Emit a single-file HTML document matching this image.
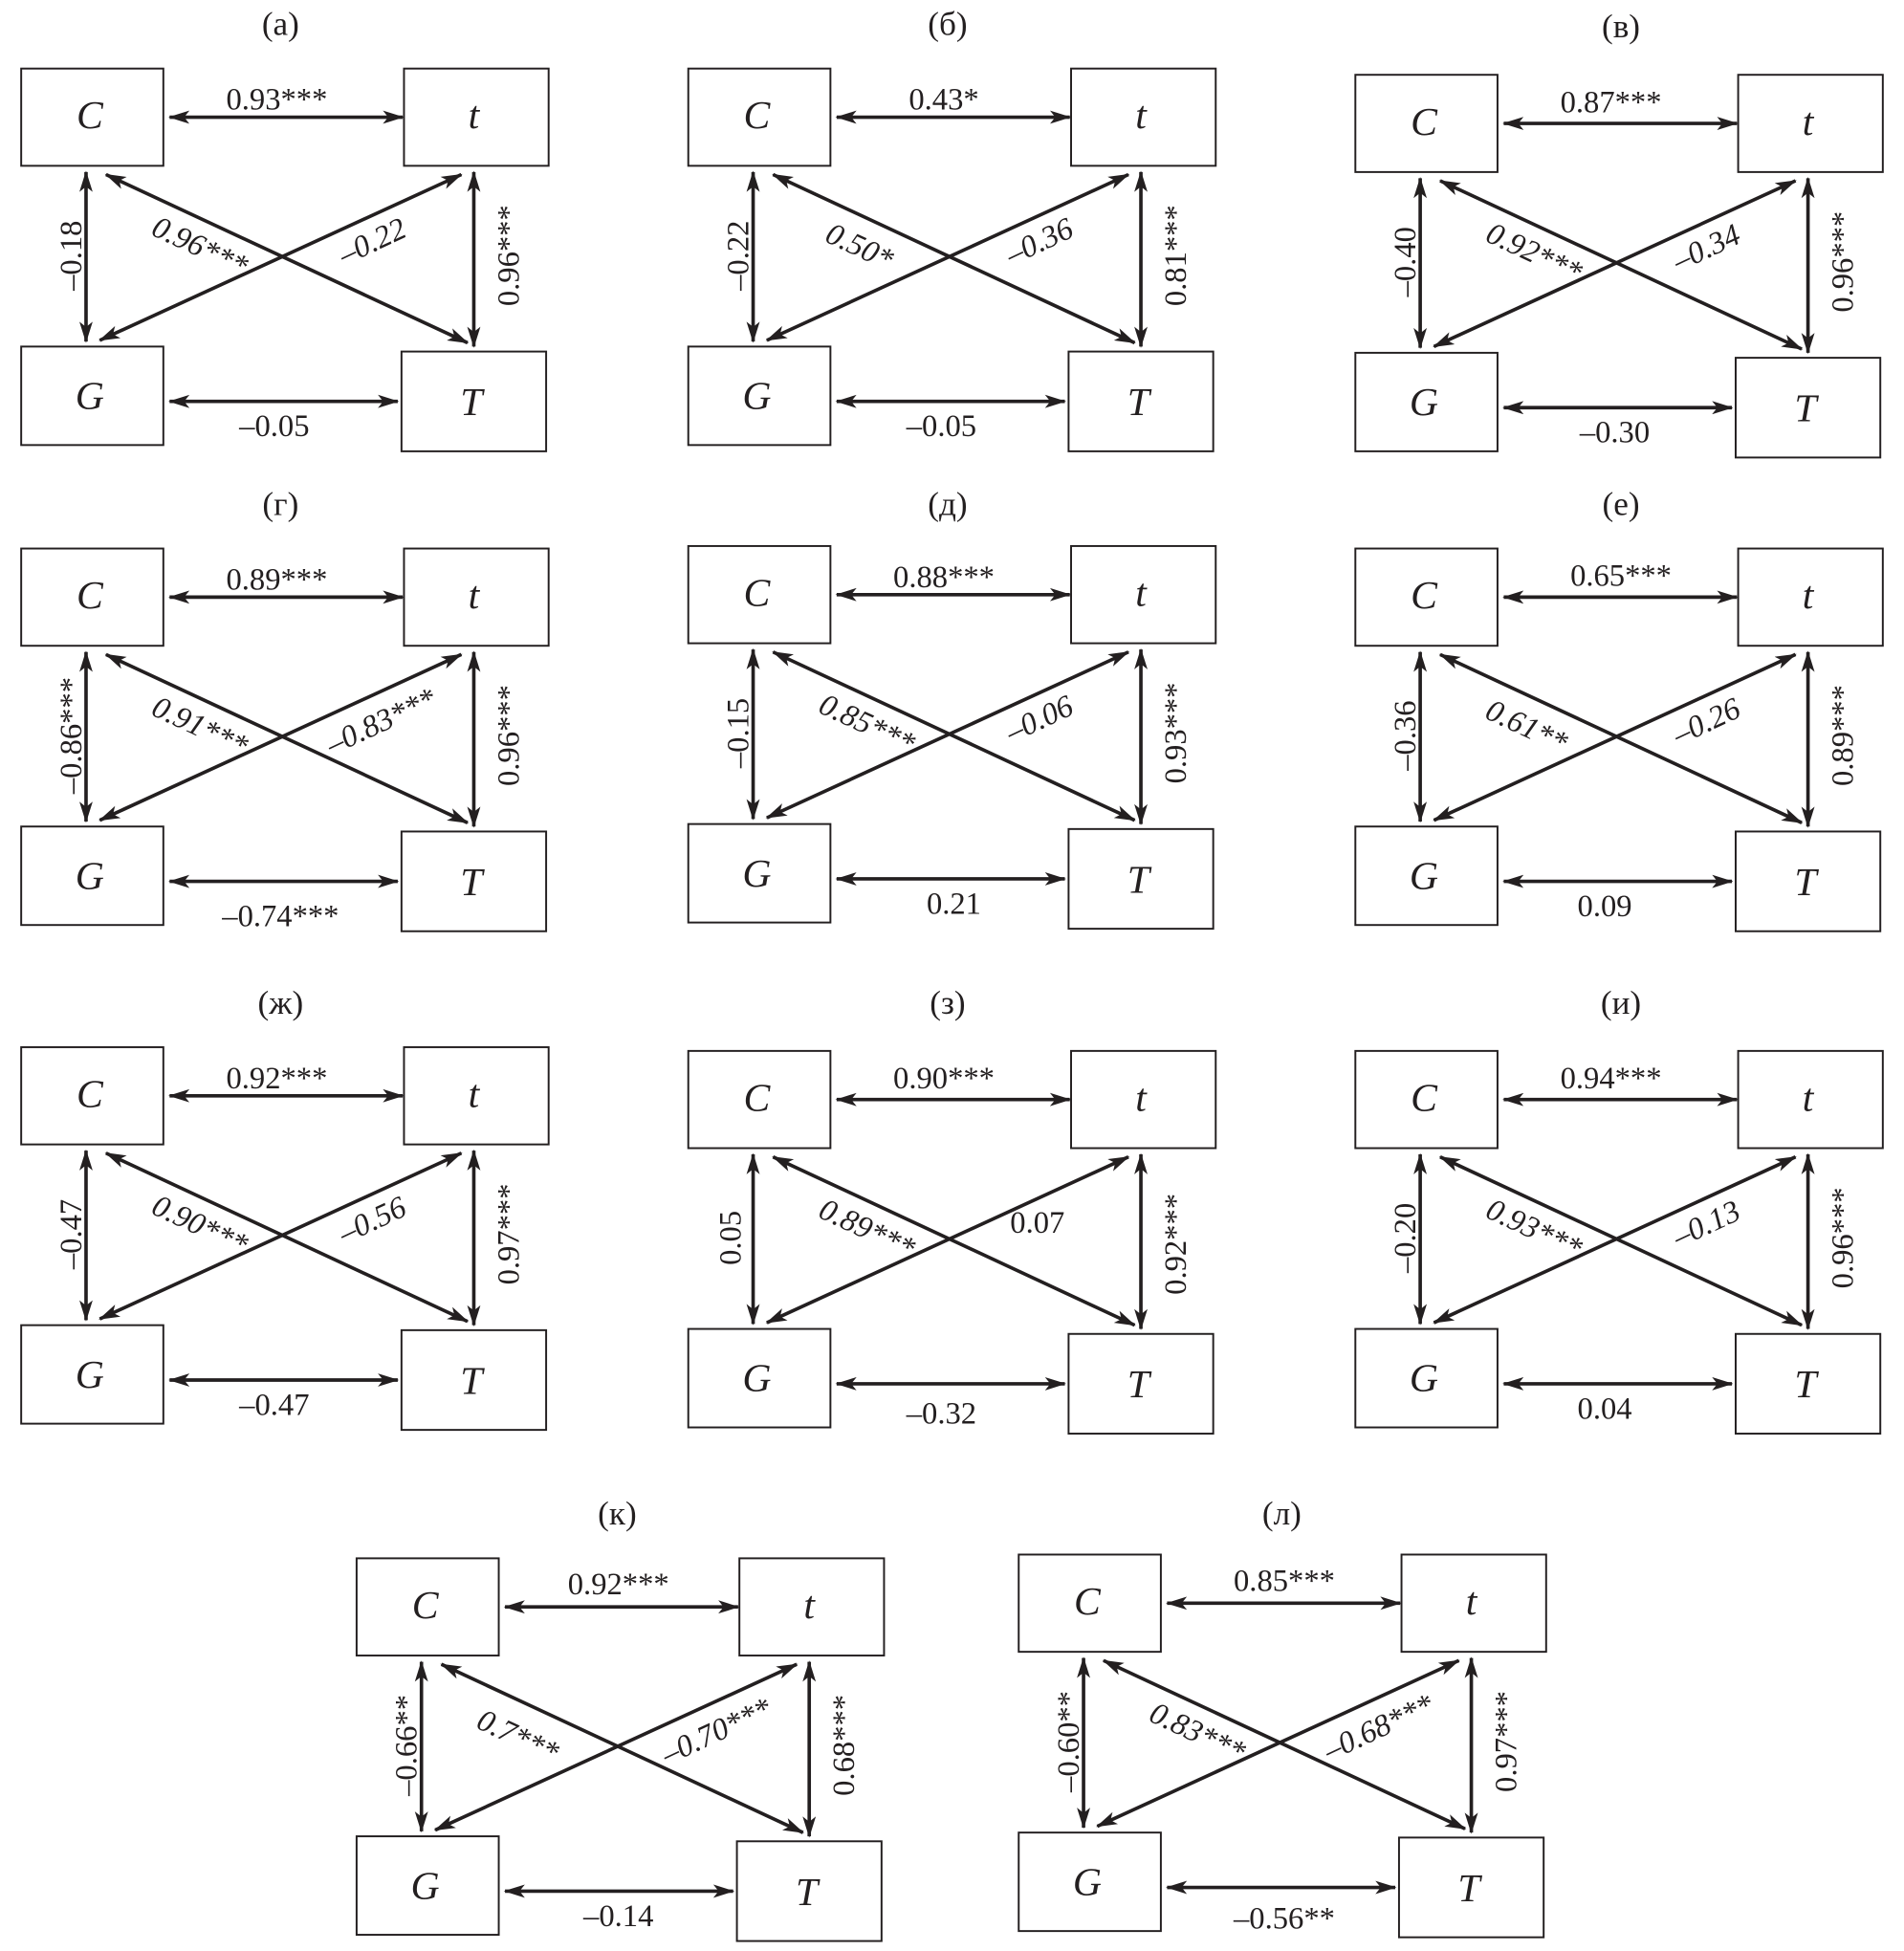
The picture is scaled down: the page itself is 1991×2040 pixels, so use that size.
<!DOCTYPE html>
<html><head><meta charset="utf-8"><style>
html,body{margin:0;padding:0;background:#fff;}
svg{display:block;}
text{font-family:"Liberation Serif",serif;fill:#231f20;}
.l{font-size:25px;text-anchor:middle;}
.n{font-size:32px;font-style:italic;text-anchor:middle;}
.d{font-size:25px;font-style:italic;text-anchor:middle;}
.ti{font-size:27px;text-anchor:middle;}
</style></head><body>
<svg width="1991" height="2040" viewBox="0 0 1527 1565" preserveAspectRatio="none" xmlns="http://www.w3.org/2000/svg">
<defs>
<marker id="ah" viewBox="0 0 16 10" refX="15" refY="5" markerWidth="17" markerHeight="11" markerUnits="userSpaceOnUse" orient="auto-start-reverse">
<path d="M0,0 L16,5 L0,10 L4,5 z" fill="#231f20"/>
</marker>
<g id="base" fill="none" stroke="#231f20">
<rect x="0" y="0" width="114" height="78" stroke-width="1.5"/>
<rect x="307" y="0" width="116" height="78" stroke-width="1.5"/>
<rect x="0" y="223" width="114" height="79" stroke-width="1.5"/>
<rect x="305" y="227" width="116" height="80" stroke-width="1.5"/>
<g stroke-width="2.8" marker-start="url(#ah)" marker-end="url(#ah)">
<line x1="119" y1="39" x2="306" y2="39"/>
<line x1="119" y1="267" x2="302" y2="267"/>
<line x1="52" y1="83" x2="52" y2="219"/>
<line x1="363" y1="83" x2="363" y2="223"/>
<line x1="68" y1="85" x2="358" y2="220"/>
<line x1="63" y1="218" x2="353" y2="85"/>
</g>
</g>
</defs>

<g transform="translate(17,55)"><use href="#base"/>
<text class="ti" x="208" y="-27">(а)</text>
<text class="n" x="55" y="48">C</text><text class="n" x="363" y="48">t</text><text class="n" x="55" y="273">G</text><text class="n" x="361" y="278">T</text>
<text class="l" x="205" y="33">0.93***</text><text class="l" x="203" y="295">–0.05</text>
<text class="l" transform="translate(48,150) rotate(-90)">–0.18</text>
<text class="l" transform="translate(399,150) rotate(-90)">0.96***</text>
<text class="d" transform="translate(140,150) rotate(25)">0.96***</text>
<text class="d" transform="translate(285,146) rotate(-25)">–0.22</text></g>

<g transform="translate(552,55)"><use href="#base"/>
<text class="ti" x="208" y="-27">(б)</text>
<text class="n" x="55" y="48">C</text><text class="n" x="363" y="48">t</text><text class="n" x="55" y="273">G</text><text class="n" x="361" y="278">T</text>
<text class="l" x="205" y="33">0.43*</text><text class="l" x="203" y="295">–0.05</text>
<text class="l" transform="translate(48,150) rotate(-90)">–0.22</text>
<text class="l" transform="translate(399,150) rotate(-90)">0.81***</text>
<text class="d" transform="translate(134,150) rotate(25)">0.50*</text>
<text class="d" transform="translate(285,146) rotate(-25)">–0.36</text></g>

<g transform="translate(1087,60)"><use href="#base"/>
<text class="ti" x="213" y="-30">(в)</text>
<text class="n" x="55" y="48">C</text><text class="n" x="363" y="48">t</text><text class="n" x="55" y="273">G</text><text class="n" x="361" y="278">T</text>
<text class="l" x="205" y="30">0.87***</text><text class="l" x="208" y="295">–0.30</text>
<text class="l" transform="translate(48,150) rotate(-90)">–0.40</text>
<text class="l" transform="translate(399,150) rotate(-90)">0.96***</text>
<text class="d" transform="translate(140,150) rotate(25)">0.92***</text>
<text class="d" transform="translate(285,146) rotate(-25)">–0.34</text></g>

<g transform="translate(17,440)"><use href="#base"/>
<text class="ti" x="208" y="-27">(г)</text>
<text class="n" x="55" y="48">C</text><text class="n" x="363" y="48">t</text><text class="n" x="55" y="273">G</text><text class="n" x="361" y="278">T</text>
<text class="l" x="205" y="33">0.89***</text><text class="l" x="208" y="303">–0.74***</text>
<text class="l" transform="translate(48,150) rotate(-90)">–0.86***</text>
<text class="l" transform="translate(399,150) rotate(-90)">0.96***</text>
<text class="d" transform="translate(140,150) rotate(25)">0.91***</text>
<text class="d" transform="translate(292,146) rotate(-25)">–0.83***</text></g>

<g transform="translate(552,438)"><use href="#base"/>
<text class="ti" x="208" y="-25">(д)</text>
<text class="n" x="55" y="48">C</text><text class="n" x="363" y="48">t</text><text class="n" x="55" y="273">G</text><text class="n" x="361" y="278">T</text>
<text class="l" x="205" y="33">0.88***</text><text class="l" x="213" y="295">0.21</text>
<text class="l" transform="translate(48,150) rotate(-90)">–0.15</text>
<text class="l" transform="translate(399,150) rotate(-90)">0.93***</text>
<text class="d" transform="translate(140,150) rotate(25)">0.85***</text>
<text class="d" transform="translate(285,146) rotate(-25)">–0.06</text></g>

<g transform="translate(1087,440)"><use href="#base"/>
<text class="ti" x="213" y="-27">(е)</text>
<text class="n" x="55" y="48">C</text><text class="n" x="363" y="48">t</text><text class="n" x="55" y="273">G</text><text class="n" x="361" y="278">T</text>
<text class="l" x="213" y="30">0.65***</text><text class="l" x="200" y="295">0.09</text>
<text class="l" transform="translate(48,150) rotate(-90)">–0.36</text>
<text class="l" transform="translate(399,150) rotate(-90)">0.89***</text>
<text class="d" transform="translate(134,150) rotate(25)">0.61**</text>
<text class="d" transform="translate(285,146) rotate(-25)">–0.26</text></g>

<g transform="translate(17,840)"><use href="#base"/>
<text class="ti" x="208" y="-27">(ж)</text>
<text class="n" x="55" y="48">C</text><text class="n" x="363" y="48">t</text><text class="n" x="55" y="273">G</text><text class="n" x="361" y="278">T</text>
<text class="l" x="205" y="33">0.92***</text><text class="l" x="203" y="295">–0.47</text>
<text class="l" transform="translate(48,150) rotate(-90)">–0.47</text>
<text class="l" transform="translate(399,150) rotate(-90)">0.97***</text>
<text class="d" transform="translate(140,150) rotate(25)">0.90***</text>
<text class="d" transform="translate(285,146) rotate(-25)">–0.56</text></g>

<g transform="translate(552,843)"><use href="#base"/>
<text class="ti" x="208" y="-30">(з)</text>
<text class="n" x="55" y="48">C</text><text class="n" x="363" y="48">t</text><text class="n" x="55" y="273">G</text><text class="n" x="361" y="278">T</text>
<text class="l" x="205" y="30">0.90***</text><text class="l" x="203" y="299">–0.32</text>
<text class="l" transform="translate(42,150) rotate(-90)">0.05</text>
<text class="l" transform="translate(399,155) rotate(-90)">0.92***</text>
<text class="d" transform="translate(140,150) rotate(25)">0.89***</text>
<text class="l" x="280" y="146">0.07</text></g>

<g transform="translate(1087,843)"><use href="#base"/>
<text class="ti" x="213" y="-30">(и)</text>
<text class="n" x="55" y="48">C</text><text class="n" x="363" y="48">t</text><text class="n" x="55" y="273">G</text><text class="n" x="361" y="278">T</text>
<text class="l" x="205" y="30">0.94***</text><text class="l" x="200" y="295">0.04</text>
<text class="l" transform="translate(48,150) rotate(-90)">–0.20</text>
<text class="l" transform="translate(399,150) rotate(-90)">0.96***</text>
<text class="d" transform="translate(140,150) rotate(25)">0.93***</text>
<text class="d" transform="translate(285,146) rotate(-25)">–0.13</text></g>

<g transform="translate(286,1250)"><use href="#base"/>
<text class="ti" x="209" y="-27">(к)</text>
<text class="n" x="55" y="48">C</text><text class="n" x="363" y="48">t</text><text class="n" x="55" y="273">G</text><text class="n" x="361" y="278">T</text>
<text class="l" x="210" y="29">0.92***</text><text class="l" x="210" y="295">–0.14</text>
<text class="l" transform="translate(48,150) rotate(-90)">–0.66**</text>
<text class="l" transform="translate(399,150) rotate(-90)">0.68***</text>
<text class="d" transform="translate(126,150) rotate(25)">0.7***</text>
<text class="d" transform="translate(292,146) rotate(-25)">–0.70***</text></g>

<g transform="translate(817,1247)"><use href="#base"/>
<text class="ti" x="211" y="-24">(л)</text>
<text class="n" x="55" y="48">C</text><text class="n" x="363" y="48">t</text><text class="n" x="55" y="273">G</text><text class="n" x="361" y="278">T</text>
<text class="l" x="213" y="29">0.85***</text><text class="l" x="213" y="300">–0.56**</text>
<text class="l" transform="translate(48,150) rotate(-90)">–0.60**</text>
<text class="l" transform="translate(399,150) rotate(-90)">0.97***</text>
<text class="d" transform="translate(140,150) rotate(25)">0.83***</text>
<text class="d" transform="translate(292,146) rotate(-25)">–0.68***</text></g>
</svg>
</body></html>
